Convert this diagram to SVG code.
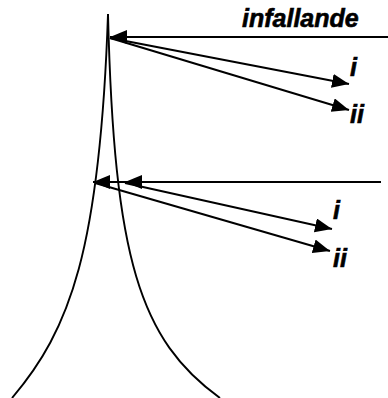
<svg xmlns="http://www.w3.org/2000/svg" width="388" height="398" viewBox="0 0 388 398">
<style>
.ln{stroke:#000;stroke-width:2;fill:none}
.cv{stroke:#000;stroke-width:1.9;fill:none}
.lb{font-family:"Liberation Sans",Arial,sans-serif;font-weight:bold;font-style:italic;font-size:25px;fill:#000;stroke:#000;stroke-width:0.6}
</style>
<defs>
<marker id="ah" markerUnits="userSpaceOnUse" markerWidth="18" markerHeight="15" refX="17" refY="7" orient="auto">
<path d="M0,0 L17,7 L0,14 z" fill="#000"/>
</marker>
</defs>
<g id="tower">
<path class="cv" d="M108,14 C100,250 70,330 12,398"/>
<path class="cv" d="M108,14 C114,260 140,340 220,398"/>
</g>
<g id="connectors">
<line class="ln" x1="388" y1="37" x2="110" y2="37" marker-end="url(#ah)"/>
<line class="ln" x1="110" y1="38" x2="349" y2="84" marker-end="url(#ah)"/>
<line class="ln" x1="110" y1="38" x2="349" y2="110" marker-end="url(#ah)"/>
<line class="ln" x1="381" y1="182" x2="125" y2="182" marker-end="url(#ah)"/>
<line class="ln" x1="125" y1="182" x2="93" y2="182" marker-end="url(#ah)"/>
<line class="ln" x1="125" y1="183" x2="332" y2="229" marker-end="url(#ah)"/>
<line class="ln" x1="95" y1="183" x2="330" y2="251" marker-end="url(#ah)"/>
</g>
<g id="labels">
<text class="lb" x="242" y="27">infallande</text>
<text class="lb" x="350" y="76">i</text>
<text class="lb" x="350" y="123">ii</text>
<text class="lb" x="333" y="219">i</text>
<text class="lb" x="333" y="267">ii</text>
</g>
</svg>
